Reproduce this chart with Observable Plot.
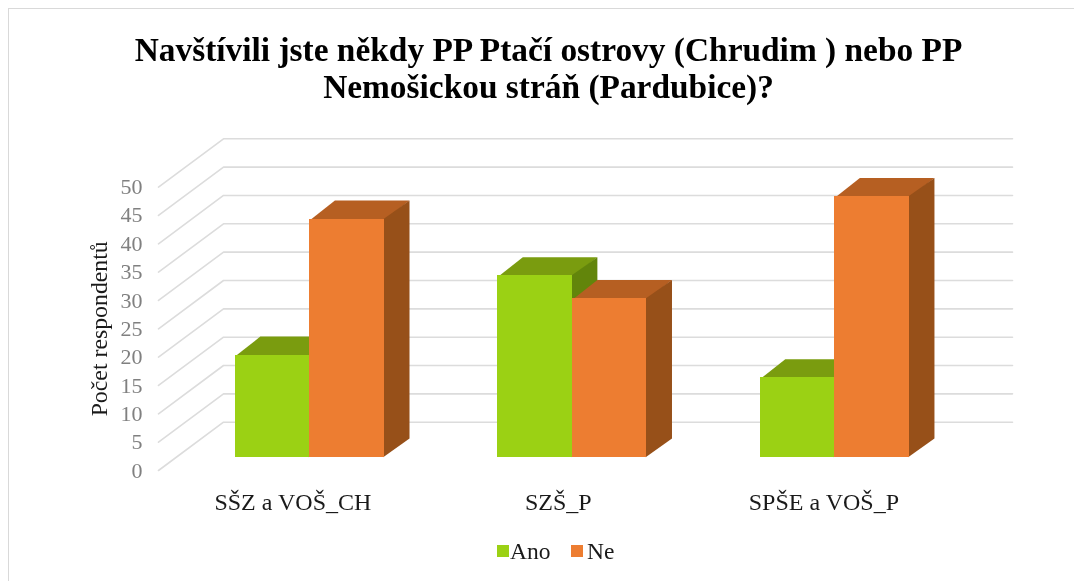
<!DOCTYPE html>
<html lang="cs">
<head>
<meta charset="utf-8">
<script src="https://cdn.jsdelivr.net/npm/d3@7"></script>
<script src="https://cdn.jsdelivr.net/npm/@observablehq/plot@0.6"></script>
<style>
  html, body { margin: 0; padding: 0; background: #fff; }
  #frame { position: relative; width: 1074px; height: 581px; overflow: hidden; box-sizing: border-box; font-family: "Liberation Serif", serif; filter: blur(0.45px); }
  #edge { position: absolute; left: 8px; top: 8px; right: -4px; bottom: -4px; border: 1.5px solid #d9d9d9; }
  #title { position: absolute; left: 0; top: 31px; width: 1097px; height: 89px; text-align: center; font-weight: bold; font-size: 33.4px; line-height: 37px; color: #000; }
  #chart { position: absolute; left: 0; top: 120px; }
  #legend { position: absolute; left: 0; top: 539px; width: 1074px; font-size: 23.5px; color: #1a1a1a; line-height: 24px; }
  #legend span { position: absolute; top: 0; }
  #legend i { position: absolute; top: 6px; width: 12px; height: 12px; }
</style>
</head>
<body>
<div id="frame">
  <div id="edge"></div>
  <div id="title">Navštívili jste někdy PP Ptačí ostrovy (Chrudim ) nebo PP<br>Nemošickou stráň (Pardubice)?</div>
  <div id="chart"></div>
  <div id="legend">
    <i style="left:497px;background:#9BD114"></i><span style="left:510px">Ano</span>
    <i style="left:571px;background:#ED7D31"></i><span style="left:587px">Ne</span>
  </div>
</div>
<script>
const categories = ["SŠZ a VOŠ_CH", "SZŠ_P", "SPŠE a VOŠ_P"];
const series = ["Ano", "Ne"];
const ano = [18, 32, 14];
const ne = [42, 28, 46];
const yTicks = d3.range(0, 51, 5);
const labelTicks = [0.511, 1.52, 2.53];

// Oblique projection: a point at depth d (0 front, 1 back wall) is shifted in data units
const depthX = 65 / 263;
const depthY = 48.3 / 5.667;
const barFront = 0.275;
const barBack = 0.66;
const barWidth = 74.6 / 263;
const groupStep = 0.998;
const groupStart = 0.224;
const seam = 0.005;
const project = (c, v, d) => ({x: c + d * depthX, y: v + d * depthY});

const grid = yTicks.flatMap(v => [
  {v, ...project(0, v, 0)},
  {v, ...project(0, v, 1)},
  {v, ...project(3, v, 1)}
]);

const faces = [];
const fronts = [];
series.forEach((s, si) => {
  const values = si === 0 ? ano : ne;
  values.forEach((v, ci) => {
    const x0 = ci * groupStep + groupStart + si * barWidth;
    const x1 = x0 + barWidth;
    const top = [project(x0, v - 0.2, barFront), project(x1, v - 0.2, barFront), project(x1, v, barBack), project(x0, v, barBack)];
    const side = [project(x1 - seam, 0, barFront), project(x1, 0, barBack), project(x1, v, barBack), project(x1 - seam, v, barFront)];
    top.forEach(p => faces.push({...p, id: `${s}-${ci}-top`, key: `${s}:top`}));
    side.forEach(p => faces.push({...p, id: `${s}-${ci}-side`, key: `${s}:side`}));
    const a = project(x0, 0, barFront), b = project(x1, v, barFront);
    fronts.push({x1: a.x, x2: b.x, y1: a.y, y2: b.y, key: `${s}:front`});
  });
});

const chart = Plot.plot({
  width: 1074,
  height: 410,
  marginLeft: 158,
  marginRight: 62,
  marginTop: 18.3,
  marginBottom: 60,
  style: {background: "transparent", fontFamily: "'Liberation Serif', serif"},
  x: {domain: [0, 3 + depthX], axis: null},
  y: {domain: [0, 50 + depthY], axis: null},
  color: {
    domain: ["Ano:front", "Ano:top", "Ano:side", "Ne:front", "Ne:top", "Ne:side"],
    range: ["#9BD114", "#7A9C0F", "#62850B", "#ED7D31", "#B65F22", "#975019"]
  },
  marks: [
    Plot.line(grid, {x: "x", y: "y", z: "v", stroke: "#dcdcdc", strokeWidth: 1.6, curve: "linear"}),
    Plot.axisY({ticks: yTicks, tickSize: 0, tickPadding: 16, label: null, fontSize: 22, color: "#808080"}),
    Plot.axisX({ticks: labelTicks, tickFormat: t => categories[Math.floor(t)], tickSize: 0, tickPadding: 22, label: null, fontSize: 24, color: "#1a1a1a"}),
    Plot.text(["Počet respondentů"], {x: -59 / 263, y: 25, text: d => d, rotate: -90, fontSize: 23.8, fill: "#1a1a1a", clip: false}),
    Plot.line(faces.filter(f => f.key.startsWith("Ano")), {x: "x", y: "y", z: "id", fill: "key", stroke: null, curve: "linear-closed"}),
    Plot.line(faces.filter(f => f.key.startsWith("Ne")), {x: "x", y: "y", z: "id", fill: "key", stroke: null, curve: "linear-closed"}),
    Plot.rect(fronts, {x1: "x1", x2: "x2", y1: "y1", y2: "y2", fill: "key", shapeRendering: "crispEdges"})
  ]
});
document.getElementById("chart").append(chart);
</script>
</body>
</html>
